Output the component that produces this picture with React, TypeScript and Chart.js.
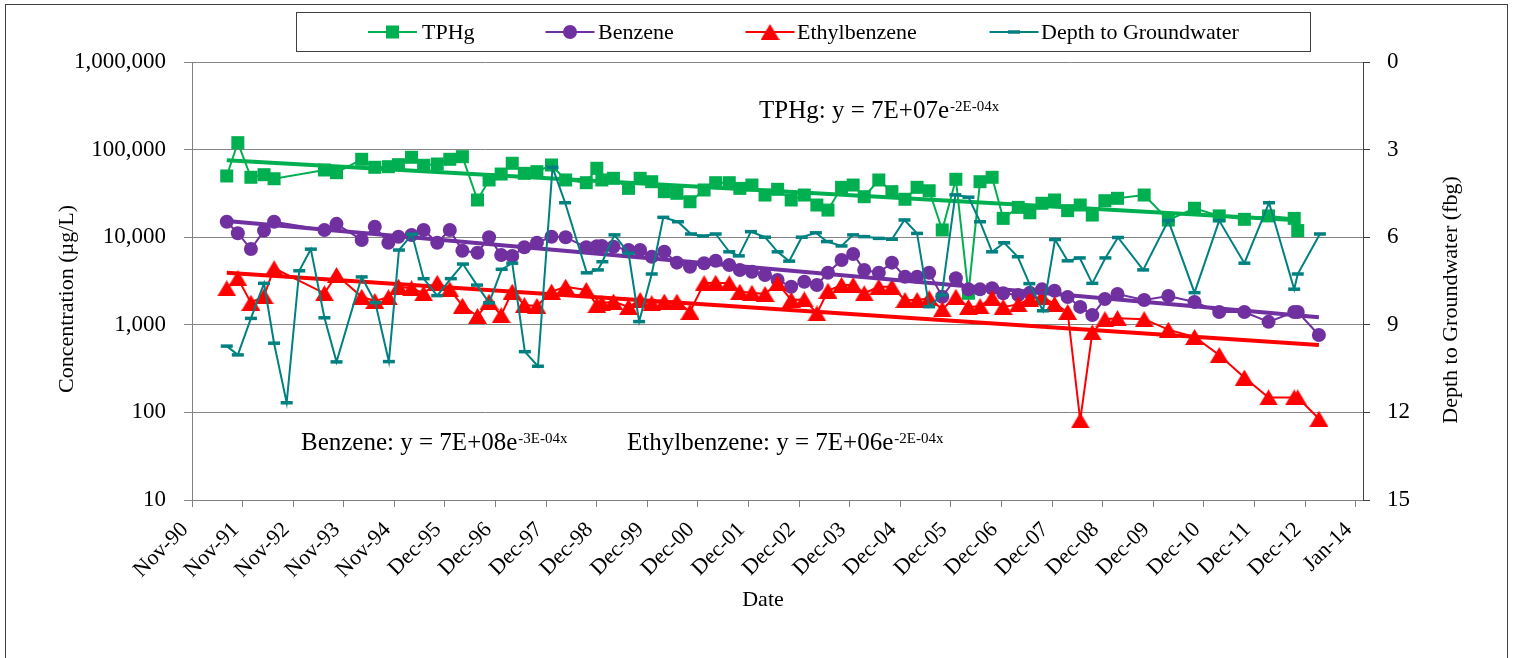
import React, { useEffect, useRef } from 'react';
import { Chart, registerables } from 'chart.js';

Chart.register(...registerables);

const FONT = '"Liberation Serif", "Times New Roman", Times, serif';

// ---------- axis tick labels ----------
const xTickLabels = [
  'Nov-90', 'Nov-91', 'Nov-92', 'Nov-93', 'Nov-94', 'Dec-95', 'Dec-96', 'Dec-97',
  'Dec-98', 'Dec-99', 'Dec-00', 'Dec-01', 'Dec-02', 'Dec-03', 'Dec-04', 'Dec-05',
  'Dec-06', 'Dec-07', 'Dec-08', 'Dec-09', 'Dec-10', 'Dec-11', 'Dec-12', 'Jan-14',
];
const concTicks = [10, 100, 1000, 10000, 100000, 1000000];
const depthTicks = [0, 3, 6, 9, 12, 15];

// x axis in decimal years: starts 22-Nov-1990, major unit 367 days
const X_START = 1990.89;
const X_STEP = 367 / 365.25;
const X_END = 2014.146;

// ---------- sample data (decimal year) ----------
const chemDates = [
  1991.58, 1991.80, 1992.06, 1992.32, 1992.52, 1993.52, 1993.76, 1994.26, 1994.52, 1994.79,
  1994.99, 1995.25, 1995.49, 1995.76, 1996.01, 1996.26, 1996.56, 1996.79, 1997.03, 1997.25,
  1997.49, 1997.74, 1998.03, 1998.31, 1998.72, 1998.93, 1999.03, 1999.26, 1999.56, 1999.79,
  2000.02, 2000.27, 2000.52, 2000.78, 2001.06, 2001.29, 2001.56, 2001.77, 2002.01, 2002.27,
  2002.52, 2002.79, 2003.05, 2003.30, 2003.52, 2003.79, 2004.02, 2004.24, 2004.53, 2004.79,
  2005.05, 2005.29, 2005.53, 2005.79, 2006.06, 2006.31, 2006.54, 2006.78, 2007.00, 2007.30,
  2007.53, 2007.77, 2008.02, 2008.28, 2008.53, 2008.77, 2009.02, 2009.27, 2009.80, 2010.28,
  2010.80, 2011.29, 2011.79, 2012.27, 2012.78, 2012.85, 2013.27,
];

const tphg = [
  50000, 120000, 48300, 51700, 46500, 58500, 54500, 77500, 62800, 63800,
  67300, 81700, 66200, 68500, 77500, 83000, 26600, 45000, 52600, 69800,
  53600, 56000, 66700, 45000, 41900, 61200, 45000, 47000, 36100, 47000,
  43000, 33100, 31700, 25400, 34600, 41900, 41900, 36100, 39400, 30300,
  35200, 26600, 30300, 23300, 20400, 37100, 39400, 29000, 45000, 33100,
  27100, 37100, 33900, 12100, 45800, 2290, 43000, 48300, 16400, 21900,
  19000, 24400, 26600, 20100, 23300, 17900, 26100, 27800, 30300, 15700,
  21400, 17500, 16000, 17500, 16400, 11900, null,
];

const benzene = [
  15000, 11100, 7330, 11900, 15000, 12100, 14200, 9290, 13200, 8650,
  10100, 10600, 12100, 8650, 12100, 7010, 6650, 9970, 6260, 6100,
  7670, 8650, 10100, 9970, 7670, 7900, 7940, 7790, 7140, 7140,
  5990, 6830, 5120, 4600, 5040, 5390, 4820, 4220, 4040, 3700,
  3250, 2720, 3100, 2850, 3930, 5490, 6430, 4220, 3930, 5120,
  3540, 3540, 3930, 2090, 3400, 2540, 2540, 2610, 2290, 2190,
  2320, 2540, 2450, 2080, 1600, 1290, 1970, 2250, 1920, 2130,
  1820, 1400, 1400, 1080, 1400, 1400, 765,
];

const ethylbenzene = [
  2610, 3400, 1790, 2130, 4420, 2290, 3700, 2090, 1870, 2060,
  2720, 2610, 2290, 3020, 2540, 1650, 1260, 1840, 1290, 2390,
  1680, 1640, 2390, 2720, 2500, 1680, 1760, 1840, 1600, 1920,
  1760, 1840, 1840, 1410, 2980, 3020, 2980, 2390, 2320, 2250,
  2980, 1920, 1950, 1350, 2450, 2850, 2850, 2290, 2720, 2720,
  1920, 1920, 2010, 1500, 2090, 1600, 1630, 2030, 1600, 1710,
  1970, 2080, 1730, 1400, 81, 817, 1160, 1190, 1160, 880,
  726, 452, 250, 148, 148, 148, 84.5,
];

const depthDates = [
  1991.58, 1991.80, 1992.06, 1992.32, 1992.52, 1992.77, 1993.02, 1993.25, 1993.52, 1993.76,
  1994.26, 1994.53, 1994.80, 1995.00, 1995.26, 1995.49, 1995.76, 1996.03, 1996.27, 1996.55,
  1996.79, 1997.04, 1997.25, 1997.50, 1997.76, 1998.05, 1998.30, 1998.73, 1998.95, 1999.04,
  1999.28, 1999.56, 1999.77, 2000.02, 2000.25, 2000.54, 2000.80, 2001.04, 2001.29, 2001.56,
  2001.75, 2001.99, 2002.27, 2002.52, 2002.75, 2003.00, 2003.28, 2003.50, 2003.79, 2004.02,
  2004.24, 2004.53, 2004.79, 2005.04, 2005.29, 2005.53, 2005.78, 2006.05, 2006.31, 2006.54,
  2006.78, 2007.02, 2007.29, 2007.52, 2007.79, 2008.03, 2008.28, 2008.52, 2008.77, 2009.03,
  2009.28, 2009.78, 2010.28, 2010.80, 2011.29, 2011.79, 2012.28, 2012.78, 2012.85, 2013.29,
];

const depthToWater = [
  9.73, 10.03, 8.78, 7.58, 9.63, 11.67, 7.15, 6.41, 8.76, 10.27,
  7.36, 8.24, 10.26, 6.44, 5.90, 7.42, 8.00, 7.42, 6.92, 7.64,
  8.25, 7.10, 6.89, 9.92, 10.42, 3.61, 4.82, 7.22, 7.12, 6.84,
  5.92, 6.55, 8.89, 7.26, 5.32, 5.47, 5.89, 5.96, 5.89, 6.50,
  6.64, 5.81, 6.00, 6.50, 6.82, 6.00, 5.85, 6.15, 6.30, 5.92,
  5.98, 6.04, 6.07, 5.41, 5.87, 8.38, 7.98, 4.55, 4.63, 5.47,
  6.50, 6.19, 6.67, 7.59, 8.52, 6.08, 6.81, 6.71, 7.58, 6.71,
  6.01, 7.12, 5.43, 7.90, 5.43, 6.89, 4.82, 7.78, 7.26, 5.89,
];

const seriesNames = ['TPHg', 'Benzene', 'Ethylbenzene', 'Depth to Groundwater'];
const equationTexts = [
  ['TPHg: y = 7E+07e', '-2E-04x'],
  ['Benzene: y = 7E+08e', '-3E-04x'],
  ['Ethylbenzene: y = 7E+06e', '-2E-04x'],
];
const axisTitles = ['Concentration (µg/L)', 'Depth to Groundwater (fbg)', 'Date'];

// ---------- helpers ----------
function pairs(xs: number[], ys: (number | null)[]) {
  return xs.map((x, i) => ({ x, y: ys[i] }));
}

function expTrend(xs: number[], ys: (number | null)[]) {
  const pts = xs
    .map((x, i) => [x, ys[i]] as [number, number | null])
    .filter((p) => p[1] != null && (p[1] as number) > 0) as [number, number][];
  const n = pts.length;
  const mx = pts.reduce((s, p) => s + p[0], 0) / n;
  const my = pts.reduce((s, p) => s + Math.log(p[1]), 0) / n;
  let sxy = 0;
  let sxx = 0;
  for (const [x, y] of pts) {
    sxy += (x - mx) * (Math.log(y) - my);
    sxx += (x - mx) * (x - mx);
  }
  const b = sxy / sxx;
  const a = my - b * mx;
  const x0 = Math.min(...pts.map((p) => p[0]));
  const x1 = Math.max(...pts.map((p) => p[0]));
  return [
    { x: x0, y: Math.exp(a + b * x0) },
    { x: x1, y: Math.exp(a + b * x1) },
  ];
}

function makeTriangle(color: string) {
  const c = document.createElement('canvas');
  c.width = 19;
  c.height = 16;
  const g = c.getContext('2d')!;
  g.fillStyle = color;
  g.beginPath();
  g.moveTo(9.5, 0);
  g.lineTo(19, 16);
  g.lineTo(0, 16);
  g.closePath();
  g.fill();
  return c;
}

const COLORS = {
  tphg: '#00B050',
  benzene: '#7030A0',
  ethyl: '#FF0000',
  depth: '#008080',
};

function drawLegendMarker(ctx: CanvasRenderingContext2D, kind: string, color: string, x: number, y: number, tri: HTMLCanvasElement) {
  ctx.save();
  ctx.fillStyle = color;
  ctx.strokeStyle = color;
  if (kind === 'rect') {
    ctx.fillRect(x - 6.5, y - 6.5, 13, 13);
  } else if (kind === 'circle') {
    ctx.beginPath();
    ctx.arc(x, y, 7, 0, Math.PI * 2);
    ctx.fill();
  } else if (kind === 'tri') {
    ctx.drawImage(tri, x - tri.width / 2, y - tri.height / 2);
  } else if (kind === 'dash') {
    ctx.lineWidth = 3.5;
    ctx.beginPath();
    ctx.moveTo(x - 6, y);
    ctx.lineTo(x + 6, y);
    ctx.stroke();
  }
  ctx.restore();
}

export default function App() {
  const canvasRef = useRef<HTMLCanvasElement | null>(null);

  useEffect(() => {
    const canvas = canvasRef.current;
    if (!canvas) return;
    const tri = makeTriangle(COLORS.ethyl);

    const legendLayout = [
      { kind: 'rect', color: COLORS.tphg, cx: 392.5, tx: 422 },
      { kind: 'circle', color: COLORS.benzene, cx: 570, tx: 598 },
      { kind: 'tri', color: COLORS.ethyl, cx: 770, tx: 797 },
      { kind: 'dash', color: COLORS.depth, cx: 1014, tx: 1041 },
    ];

    const decor = {
      id: 'decor',
      beforeDraw(chart: any) {
        const ctx = chart.ctx as CanvasRenderingContext2D;
        ctx.save();
        ctx.fillStyle = '#ffffff';
        ctx.fillRect(0, 0, chart.width, chart.height);
        ctx.strokeStyle = '#404040';
        ctx.lineWidth = 1;
        ctx.strokeRect(5.5, 4.5, 1502, 720);
        ctx.restore();
      },
      afterDraw(chart: any) {
        const ctx = chart.ctx as CanvasRenderingContext2D;
        ctx.save();
        // legend
        ctx.strokeStyle = '#404040';
        ctx.lineWidth = 1;
        ctx.strokeRect(296.5, 12.5, 1014, 39);
        const ly = 32;
        legendLayout.forEach((it, i) => {
          ctx.strokeStyle = it.color;
          ctx.lineWidth = 2;
          ctx.beginPath();
          ctx.moveTo(it.cx - 24.5, ly);
          ctx.lineTo(it.cx + 24.5, ly);
          ctx.stroke();
          drawLegendMarker(ctx, it.kind, it.color, it.cx, ly, tri);
          ctx.fillStyle = '#000';
          ctx.font = `22px ${FONT}`;
          ctx.textAlign = 'left';
          ctx.textBaseline = 'middle';
          ctx.fillText(chart.data.datasets[i].label, it.tx, ly + 1);
        });

        // trend equations
        const eqPos = [
          [759, 118],
          [301, 450],
          [627, 450],
        ];
        ctx.textBaseline = 'alphabetic';
        ctx.textAlign = 'left';
        equationTexts.forEach(([main, sup], i) => {
          const [x, y] = eqPos[i];
          ctx.font = `25px ${FONT}`;
          ctx.fillStyle = '#000';
          ctx.fillText(main, x, y);
          const w = ctx.measureText(main).width;
          ctx.font = `15px ${FONT}`;
          ctx.fillText(sup, x + w + 1, y - 7);
        });

        // axis titles
        ctx.font = `22px ${FONT}`;
        ctx.textAlign = 'center';
        ctx.textBaseline = 'middle';
        ctx.save();
        ctx.translate(67, 299);
        ctx.rotate(-Math.PI / 2);
        ctx.fillText(axisTitles[0], 0, 0);
        ctx.restore();
        ctx.save();
        ctx.translate(1451, 300);
        ctx.rotate(-Math.PI / 2);
        ctx.fillText(axisTitles[1], 0, 0);
        ctx.restore();
        ctx.fillText(axisTitles[2], 763, 600);
        ctx.restore();
      },
    };

    const chart = new Chart(canvas, {
      type: 'line',
      data: {
        datasets: [
          {
            label: seriesNames[0],
            data: pairs(chemDates, tphg),
            borderColor: COLORS.tphg,
            backgroundColor: COLORS.tphg,
            borderWidth: 2,
            pointStyle: 'rect',
            pointRadius: 9.2,
            pointBorderWidth: 0,
            pointBackgroundColor: COLORS.tphg,
            yAxisID: 'y',
            order: 5,
          },
          {
            label: seriesNames[1],
            data: pairs(chemDates, benzene),
            borderColor: COLORS.benzene,
            backgroundColor: COLORS.benzene,
            borderWidth: 2,
            pointStyle: 'circle',
            pointRadius: 7,
            pointBorderWidth: 0,
            yAxisID: 'y',
            order: 4,
          },
          {
            label: seriesNames[2],
            data: pairs(chemDates, ethylbenzene),
            borderColor: COLORS.ethyl,
            backgroundColor: COLORS.ethyl,
            borderWidth: 2,
            pointStyle: tri,
            pointRadius: 9,
            yAxisID: 'y',
            order: 3,
          },
          {
            label: seriesNames[3],
            data: pairs(depthDates, depthToWater),
            borderColor: COLORS.depth,
            backgroundColor: COLORS.depth,
            borderWidth: 2,
            pointStyle: 'line',
            pointRadius: 6,
            pointBorderWidth: 3.5,
            pointBorderColor: COLORS.depth,
            yAxisID: 'y1',
            order: 0,
          },
          {
            label: 'TPHg trend',
            data: expTrend(chemDates, tphg),
            borderColor: COLORS.tphg,
            borderWidth: 4,
            pointRadius: 0,
            yAxisID: 'y',
            order: 2,
          },
          {
            label: 'Benzene trend',
            data: expTrend(chemDates, benzene),
            borderColor: COLORS.benzene,
            borderWidth: 4,
            pointRadius: 0,
            yAxisID: 'y',
            order: 2,
          },
          {
            label: 'Ethylbenzene trend',
            data: expTrend(chemDates, ethylbenzene),
            borderColor: COLORS.ethyl,
            borderWidth: 4,
            pointRadius: 0,
            yAxisID: 'y',
            order: 2,
          },
        ],
      },
      options: {
        animation: false,
        responsive: false,
        devicePixelRatio: 1,
        events: [],
        layout: { padding: { top: 62, left: 0, right: 0, bottom: 0 } },
        elements: { line: { tension: 0 } },
        plugins: {
          legend: { display: false },
          tooltip: { enabled: false },
          title: { display: false },
        },
        scales: {
          x: {
            type: 'linear',
            position: 'bottom',
            min: X_START,
            max: X_END,
            afterBuildTicks: (s: any) => {
              s.ticks = xTickLabels.map((_, i) => ({ value: X_START + i * X_STEP }));
            },
            afterFit: (s: any) => {
              s.height = 158;
            },
            ticks: {
              autoSkip: false,
              maxRotation: 45,
              minRotation: 45,
              padding: 10,
              labelOffset: -7,
              color: '#000',
              font: { family: FONT, size: 22 },
              callback: (_v: any, i: number) => xTickLabels[i],
            },
            grid: { drawOnChartArea: false, drawTicks: true, tickLength: 7, color: '#808080' },
            border: { color: '#808080', width: 1 },
          },
          y: {
            type: 'logarithmic',
            position: 'left',
            min: 10,
            max: 1000000,
            afterBuildTicks: (s: any) => {
              s.ticks = concTicks.map((v) => ({ value: v }));
            },
            afterFit: (s: any) => {
              s.width = 192;
            },
            ticks: {
              autoSkip: false,
              padding: 18,
              color: '#000',
              font: { family: FONT, size: 23 },
              callback: (v: any) => Number(v).toLocaleString('en-US'),
            },
            grid: { color: '#868686', tickLength: 8, drawTicks: true },
            border: { color: '#808080', width: 1 },
          },
          y1: {
            type: 'linear',
            position: 'right',
            reverse: true,
            min: 0,
            max: 15,
            afterBuildTicks: (s: any) => {
              s.ticks = depthTicks.map((v) => ({ value: v }));
            },
            afterFit: (s: any) => {
              s.width = 151;
            },
            ticks: {
              autoSkip: false,
              padding: 17,
              color: '#000',
              font: { family: FONT, size: 23 },
            },
            grid: { drawOnChartArea: false, tickLength: 7, color: '#404040' },
            border: { color: '#404040', width: 1 },
          },
        },
      },
      plugins: [decor],
    } as any);

    return () => {
      chart.destroy();
    };
  }, []);

  return (
    <div style={{ position: 'absolute', left: 0, top: 0, width: 1514, height: 658 }}>
      <canvas ref={canvasRef} width={1514} height={658} style={{ display: 'block' }} />
    </div>
  );
}
